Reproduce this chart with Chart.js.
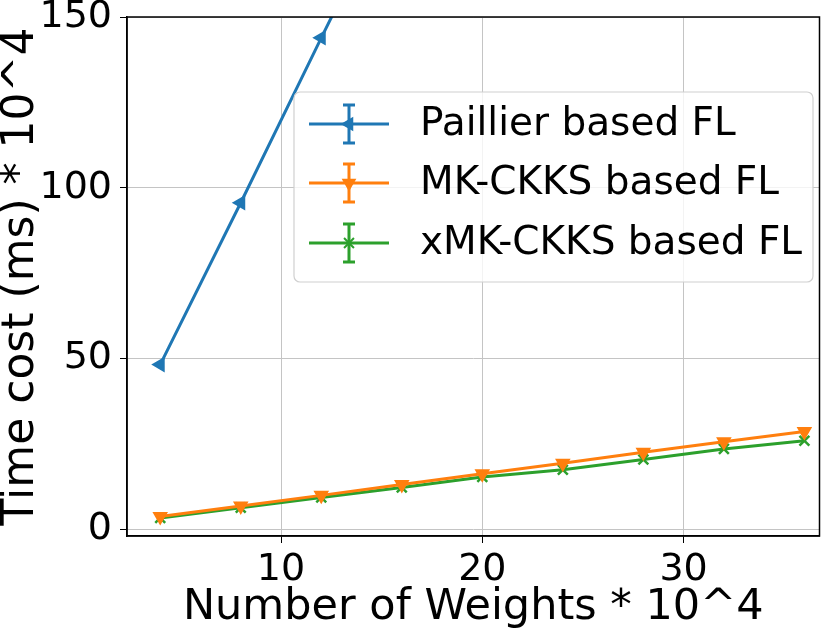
<!DOCTYPE html>
<html>
<head>
<meta charset="utf-8">
<script src="https://cdn.jsdelivr.net/npm/chart.js@4.4.0/dist/chart.umd.min.js"></script>
<style>
  html, body { margin: 0; padding: 0; background: #fff; }
  #wrap { width: 829px; height: 643px; }
</style>
</head>
<body>
<div id="wrap"><canvas id="chart" width="829" height="643"></canvas></div>
<script>
// dane
const weights = [4, 8, 12, 16, 20, 24, 28, 32, 36];
const paillier = [48.2, 95.6, 143.9, 191.5];
const mkCkks = [3.7, 6.8, 9.9, 13.1, 16.2, 19.3, 22.5, 25.6, 28.6];
const xmkCkks = [3.3, 6.3, 9.3, 12.2, 15.3, 17.4, 20.4, 23.5, 25.9];
const xTicks = [10, 20, 30];
const yTicks = [0, 50, 100, 150];

const seriesNames = ["Paillier based FL", "MK-CKKS based FL", "xMK-CKKS based FL"];
const colors = ["#1f77b4", "#ff7f0e", "#2ca02c"];

const FONT = "'DejaVu Sans', sans-serif";

function pts(ys) {
  return ys.map((y, i) => ({ x: weights[i], y }));
}

// ────────────────────────────────────────────────
// legenda w stylu matplotlib (z error barami)
// ────────────────────────────────────────────────
const legendPlugin = {
  id: "mplLegend",
  afterDraw(chart) {
    const ctx = chart.ctx;
    const bx = 294, by = 92, bw = 519, bh = 190, r = 6;
    ctx.save();
    ctx.beginPath();
    ctx.roundRect(bx, by, bw, bh, r);
    ctx.fillStyle = "rgba(255,255,255,0.8)";
    ctx.fill();
    ctx.strokeStyle = "#d0d0d0";
    ctx.lineWidth = 1.2;
    ctx.stroke();

    const rows = [124, 183, 243];
    chart.data.datasets.forEach((ds, i) => {
      const y = rows[i];
      ctx.strokeStyle = ds.borderColor;
      ctx.fillStyle = ds.borderColor;
      ctx.lineWidth = 3;
      ctx.beginPath();
      ctx.moveTo(309, y); ctx.lineTo(389, y);
      ctx.moveTo(349, y - 19); ctx.lineTo(349, y + 19);
      ctx.moveTo(343, y - 19); ctx.lineTo(355, y - 19);
      ctx.moveTo(343, y + 19); ctx.lineTo(355, y + 19);
      ctx.stroke();
      ctx.lineWidth = 2;
      Chart.helpers.drawPoint(ctx, {
        pointStyle: ds.pointStyle, rotation: ds.pointRotation,
        radius: ds.pointRadius, borderWidth: 2
      }, 349, y);
      ctx.fillStyle = "#000";
      ctx.font = "39px " + FONT;
      ctx.textBaseline = "middle";
      ctx.textAlign = "left";
      ctx.fillText(seriesNames[i], 420, y + 1);
    });
    ctx.restore();
  }
};

// ramka dookoła obszaru wykresu
const framePlugin = {
  id: "frame",
  afterDatasetsDraw(chart) {
    const a = chart.chartArea, ctx = chart.ctx;
    ctx.save();
    ctx.strokeStyle = "#000";
    ctx.lineWidth = 1.5;
    ctx.strokeRect(a.left, a.top, a.right - a.left, a.bottom - a.top);
    ctx.restore();
  }
};

const data = {
  datasets: [
    { label: seriesNames[0], data: pts(paillier), pointStyle: "triangle", pointRotation: -90, pointRadius: 6.5 },
    { label: seriesNames[1], data: pts(mkCkks), pointStyle: "triangle", pointRotation: 180, pointRadius: 6.5 },
    { label: seriesNames[2], data: pts(xmkCkks), pointStyle: "crossRot", pointRotation: 0, pointRadius: 7 }
  ].map((ds, i) => Object.assign(ds, {
    borderColor: colors[i],
    backgroundColor: colors[i],
    borderWidth: 3,
    pointBorderWidth: 2.5,
    clip: 0,
    tension: 0
  }))
};

new Chart(document.getElementById("chart"), {
  type: "line",
  data,
  plugins: [framePlugin, legendPlugin],
  options: {
    responsive: false,
    animation: false,
    devicePixelRatio: 1,
    layout: { padding: { top: 17, right: 5, left: 0, bottom: 0 } },
    plugins: { legend: { display: false }, tooltip: { enabled: false } },
    scales: {
      x: {
        type: "linear",
        min: 2.35, max: 36.75,
        afterBuildTicks: s => { s.ticks = xTicks.map(v => ({ value: v })); },
        afterFit: s => { s.height = 107; s.paddingLeft = 0; s.paddingRight = 0; },
        grid: { color: "#c4c4c4", lineWidth: 1, tickColor: "#000", tickLength: 7 },
        border: { color: "#000", width: 1.5 },
        ticks: { color: "#000", font: { family: FONT, size: 38 }, padding: 4, maxRotation: 0 },
        title: { display: true, text: "Number of Weights * 10^4", color: "#000",
                 font: { family: FONT, size: 43, lineHeight: 1 }, padding: { top: 0, bottom: 14 } }
      },
      y: {
        min: -2, max: 150,
        afterBuildTicks: s => { s.ticks = yTicks.map(v => ({ value: v })); },
        afterFit: s => { s.width = 127; s.paddingTop = 0; s.paddingBottom = 0; },
        grid: { color: "#c4c4c4", lineWidth: 1, tickColor: "#000", tickLength: 7 },
        border: { color: "#000", width: 1.5 },
        ticks: { color: "#000", font: { family: FONT, size: 38 }, padding: 8 },
        title: { display: true, text: "Time cost (ms) * 10^4", color: "#000",
                 font: { family: FONT, size: 44, lineHeight: 1 }, padding: { top: 0, bottom: 0 } }
      }
    }
  }
});
</script>
</body>
</html>
